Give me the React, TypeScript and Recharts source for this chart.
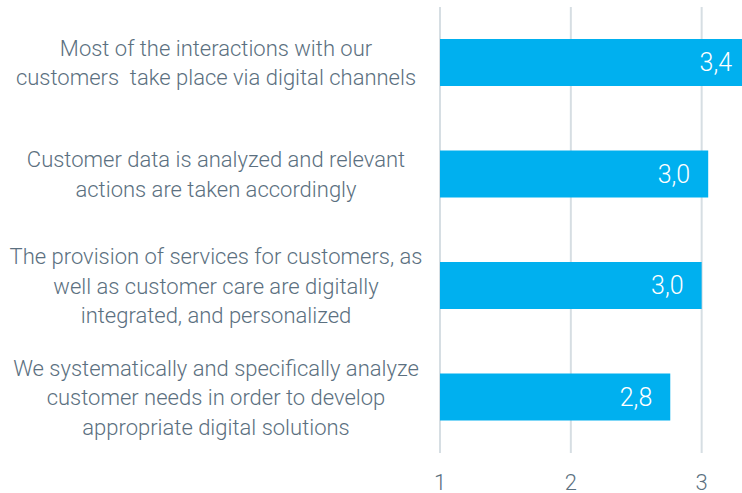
import { BarChart, Bar, XAxis, YAxis, CartesianGrid, LabelList } from "recharts"

const categories = [
  "Most of the interactions with our\ncustomers  take place via digital channels",
  "Customer data is analyzed and relevant\nactions are taken accordingly",
  "The provision of services for customers, as\nwell as customer care are digitally\nintegrated, and personalized",
  "We systematically and specifically analyze\ncustomer needs in order to develop\nappropriate digital solutions",
]
const scores = [3.37, 3.05, 3.0, 2.76]
const xTicks = [1, 2, 3]

const data = categories.map((name, i) => ({ name, score: scores[i] }))

const TEXT = "#5b7080"
const FONT = "Roboto, sans-serif"

function CategoryTick({ y, payload }: any) {
  const lines: string[] = String(payload.value).split("\n")
  const lh = 29.5
  const top = y - ((lines.length - 1) * lh) / 2
  return (
    <text
      x={216}
      y={top}
      textAnchor="middle"
      fill={TEXT}
      fontSize={22}
      fontWeight={300}
      fontFamily={FONT}
      style={{ whiteSpace: "pre" }}
    >
      {lines.map((l, i) => (
        <tspan key={i} x={216} y={top + i * lh} dy="0.36em">
          {l}
        </tspan>
      ))}
    </text>
  )
}

export default function App() {
  return (
    <div style={{ position: "absolute", left: 0, top: 0 }}>
      <BarChart
        width={760}
        height={493}
        data={data}
        layout="vertical"
        margin={{ top: 7, right: 6, left: 0, bottom: 0 }}
        barSize={47}
      >
        <CartesianGrid horizontal={false} stroke="#d6dee3" strokeWidth={2} />
        <XAxis
          type="number"
          domain={[1, 3.4]}
          ticks={xTicks}
          axisLine={false}
          tickLine={false}
          height={40}
          tickMargin={15}
          tick={{ fill: TEXT, fontSize: 22, fontWeight: 300, fontFamily: FONT }}
        />
        <YAxis
          type="category"
          dataKey="name"
          width={440}
          axisLine={false}
          tickLine={false}
          tick={<CategoryTick />}
        />
        <Bar dataKey="score" fill="#00b0ef" isAnimationActive={false}>
          <LabelList
            dataKey="score"
            position="insideRight"
            offset={18}
            fill="#ffffff"
            fontSize={25}
            fontWeight={300}
            fontFamily={FONT}
            formatter={(v: any) => Number(v).toFixed(1).replace(".", ",")}
          />
        </Bar>
      </BarChart>
    </div>
  )
}
